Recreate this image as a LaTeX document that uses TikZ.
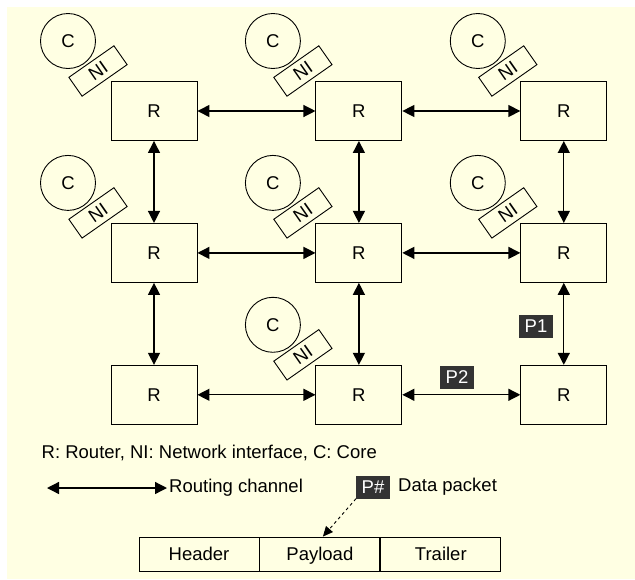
\documentclass[tikz,border=0pt]{standalone}
\usepackage{fontspec}
\setmainfont{Liberation Sans}
\usetikzlibrary{arrows.meta,positioning,calc}
\definecolor{bgyellow}{RGB}{255,255,227}
\definecolor{pktgray}{RGB}{51,51,51}

\begin{document}
\begin{tikzpicture}[
  x=1pt,y=-1pt,
  font=\fontsize{18.5}{22}\selectfont,
  node distance=82pt and 118pt,
  router/.style={draw,line width=0.9pt,minimum width=86pt,minimum height=59pt,inner sep=0pt},
  core/.style={draw,circle,line width=0.9pt,minimum size=55pt,inner sep=0pt},
  ni/.style={draw,line width=0.9pt,rotate=35,minimum width=55pt,minimum height=23pt,inner sep=0pt},
  pkt/.style={fill=pktgray,text=white,inner xsep=5.5pt,inner ysep=0pt,minimum height=23pt},
  cell/.style={draw,line width=0.9pt,minimum width=120pt,minimum height=34pt,inner sep=0pt,
    text height=13.2pt,text depth=0pt},
  arr/.style={{Triangle[length=12pt,width=12pt]}-{Triangle[length=12pt,width=12pt]},line width=1.3pt}
]
\useasboundingbox (0,0) rectangle (635,579);
\fill[bgyellow] (7,7) rectangle (635,579);

% routers
\node[router] (r11) at (154,111) {R};
\node[router,right=of r11] (r12) {R};
\node[router,right=of r12] (r13) {R};
\node[router,below=of r11] (r21) {R};
\node[router,right=of r21] (r22) {R};
\node[router,right=of r22] (r23) {R};
\node[router,below=of r21] (r31) {R};
\node[router,right=of r31] (r32) {R};
\node[router,right=of r32] (r33) {R};

% cores and network interfaces
\node[core] (c11) at ($(r11)+(-86,-70)$) {C};
\node[ni] (n11) at ($(r11)+(-56,-40)$) {NI};
\node[core] (c12) at ($(r12)+(-86,-70)$) {C};
\node[ni] (n12) at ($(r12)+(-56,-40)$) {NI};
\node[core] (c13) at ($(r13)+(-86,-70)$) {C};
\node[ni] (n13) at ($(r13)+(-56,-40)$) {NI};
\node[core] (c21) at ($(r21)+(-86,-70)$) {C};
\node[ni] (n21) at ($(r21)+(-56,-40)$) {NI};
\node[core] (c22) at ($(r22)+(-86,-70)$) {C};
\node[ni] (n22) at ($(r22)+(-56,-40)$) {NI};
\node[core] (c23) at ($(r23)+(-86,-70)$) {C};
\node[ni] (n23) at ($(r23)+(-56,-40)$) {NI};
\node[core] (c32) at ($(r32)+(-86,-70)$) {C};
\node[ni] (n32) at ($(r32)+(-56,-40)$) {NI};

% routing channels
\draw[arr] (r11) -- (r12);
\draw[arr] (r12) -- (r13);
\draw[arr] (r21) -- (r22);
\draw[arr] (r22) -- (r23);
\draw[arr] (r31) -- (r32);
\draw[arr] (r32) -- (r33);
\draw[arr] (r11) -- (r21);
\draw[arr] (r21) -- (r31);
\draw[arr] (r12) -- (r22);
\draw[arr] (r22) -- (r32);
\draw[arr] (r13) -- (r23);
\draw[arr] (r23) -- (r33);

% packets
\node[pkt] (p1) at (536,326) {P1};
\node[pkt] (p2) at (457,377) {P2};

% legend
\node[anchor=base west,inner sep=0pt] (key) at (41.5,458) {R: Router, NI: Network interface, C: Core};
\coordinate (chl) at (47,488);
\node[anchor=west,inner sep=2pt] (chan) at (167,488) {Routing channel};
\draw[arr] (chl) -- (chan.west);
\node[pkt] (pd) at (373,487) {P\#};
\node[right=6pt of pd,inner sep=2pt] (dp) {Data packet};

% packet format
\node[cell] (hdr) at (199,554) {Header};
\node[cell,right=0pt of hdr] (pay) {Payload};
\node[cell,right=0pt of pay] (trl) {Trailer};
\draw[dashed,line width=0.9pt,-{Triangle[length=10pt,width=9pt]}] (pd.south west) -- ([xshift=3pt]pay.north);
\end{tikzpicture}
\end{document}
